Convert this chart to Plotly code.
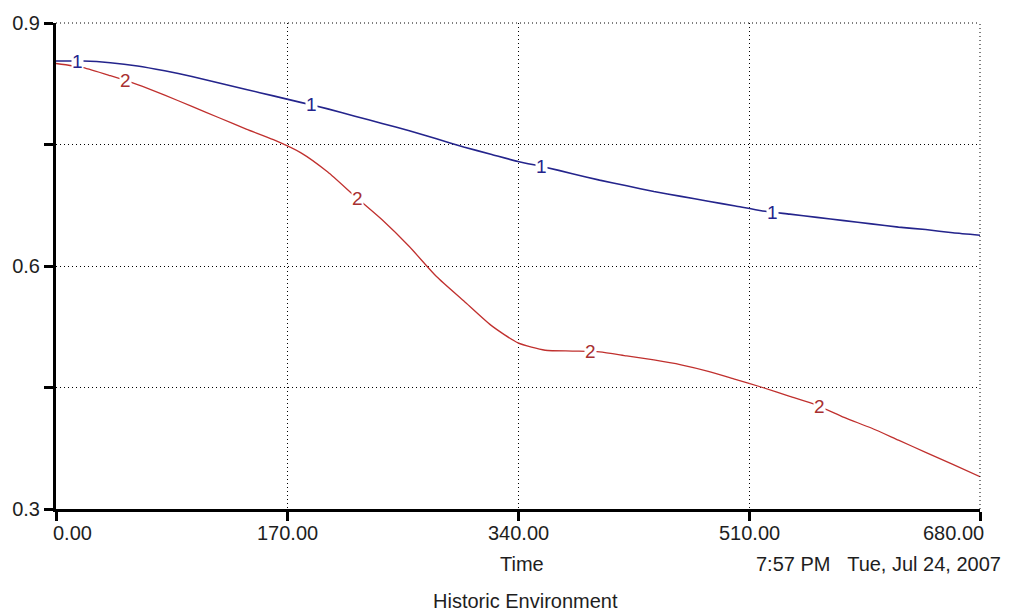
import numpy as np
import plotly.graph_objects as go

# Simulation time axis
time = [0, 20, 40, 60, 80, 100, 120, 140, 160, 180, 200, 220, 240, 260, 280, 300, 320, 340,
        360, 380, 400, 420, 440, 460, 480, 500, 520, 540, 560, 580, 600, 620, 640, 660, 680]

# Series 1 (blue)
series_1 = [0.853, 0.853, 0.851, 0.847, 0.841, 0.834, 0.826, 0.818, 0.810, 0.802, 0.794, 0.785,
            0.776, 0.767, 0.757, 0.747, 0.738, 0.729, 0.722, 0.714, 0.706, 0.699, 0.692, 0.686,
            0.680, 0.674, 0.668, 0.664, 0.660, 0.656, 0.652, 0.648, 0.645, 0.641, 0.638]

# Series 2 (red)
series_2 = [0.850, 0.845, 0.835, 0.824, 0.811, 0.797, 0.783, 0.769, 0.756, 0.740, 0.716, 0.686,
            0.657, 0.624, 0.587, 0.557, 0.527, 0.505, 0.496, 0.495, 0.494, 0.489, 0.484, 0.478,
            0.470, 0.460, 0.450, 0.439, 0.428, 0.413, 0.400, 0.385, 0.370, 0.355, 0.340]

# Times at which the series numbers are stamped on the curves
label_times_1 = [16, 188, 357, 527]
label_times_2 = [51, 222, 393, 562]

x_ticks = [0, 170, 340, 510, 680]
x_tick_text = ["0.00", "170.00", "340.00", "510.00", "680.00"]
y_ticks = [0.3, 0.45, 0.6, 0.75, 0.9]
y_tick_text = ["0.3", "", "0.6", "", "0.9"]

BLUE = "#24248c"
RED = "#c0302e"
FONT = "Liberation Sans"
TXT = "#1e1e1e"
FS = 20

fig = go.Figure()
fig.add_trace(go.Scatter(x=time, y=series_1, mode="lines",
                         line=dict(color=BLUE, width=1.6, shape="spline", smoothing=0.6),
                         hoverinfo="skip"))
fig.add_trace(go.Scatter(x=time, y=series_2, mode="lines",
                         line=dict(color=RED, width=1.3, shape="spline", smoothing=0.6),
                         hoverinfo="skip"))

annotations = []
for t in label_times_1:
    annotations.append(dict(x=t, y=float(np.interp(t, time, series_1)), xref="x", yref="y",
                            text="1", showarrow=False, bgcolor="white", borderpad=0,
                            font=dict(family=FONT, size=19, color=BLUE)))
for t in label_times_2:
    annotations.append(dict(x=t, y=float(np.interp(t, time, series_2)), xref="x", yref="y",
                            text="2", showarrow=False, bgcolor="white", borderpad=0,
                            font=dict(family=FONT, size=19, color="#a83030")))

# x tick labels: end labels pulled inward so they stay inside the frame
for i, (v, s) in enumerate(zip(x_ticks, x_tick_text)):
    anchor, shift = "center", 0
    if i == 0:
        anchor, shift = "left", -5
    elif i == len(x_ticks) - 1:
        anchor, shift = "right", 6
    annotations.append(dict(x=v, y=0, xref="x", yref="paper", text=s, showarrow=False,
                            xanchor=anchor, yanchor="middle", xshift=shift, yshift=-24,
                            font=dict(family=FONT, size=FS, color=TXT)))

annotations += [
    dict(x=340, y=0, xref="x", yref="paper", text="Time", showarrow=False,
         xanchor="center", yanchor="middle", xshift=4, yshift=-55,
         font=dict(family=FONT, size=FS, color=TXT)),
    dict(x=1.0249, y=0, xref="paper", yref="paper", text="7:57 PM&nbsp;&nbsp;&nbsp;Tue, Jul 24, 2007",
         showarrow=False, xanchor="right", yanchor="middle", yshift=-55,
         font=dict(family=FONT, size=FS, color=TXT)),
    dict(x=0.5076, y=0, xref="paper", yref="paper", text="Historic Environment", showarrow=False,
         xanchor="center", yanchor="middle", yshift=-92,
         font=dict(family=FONT, size=FS, color=TXT)),
]

# dotted frame on the top and right edges
shapes = [
    dict(type="line", xref="x domain", yref="y domain", x0=0, x1=1, y0=1, y1=1,
         line=dict(color="black", width=1, dash="1px,3px")),
    dict(type="line", xref="x domain", yref="y domain", x0=1, x1=1, y0=0, y1=1,
         line=dict(color="black", width=1, dash="1px,3px")),
]

fig.update_layout(
    width=1013, height=613,
    margin=dict(l=56, r=33, t=16, b=104),
    paper_bgcolor="white", plot_bgcolor="white",
    showlegend=False,
    annotations=annotations,
    shapes=shapes,
    xaxis=dict(range=[0, 680], tickvals=x_ticks, showticklabels=False,
               ticks="outside", ticklen=9, tickwidth=3, tickcolor="black",
               showline=True, linewidth=3, linecolor="black",
               showgrid=True, gridcolor="black", gridwidth=1, griddash="1px,3px",
               zeroline=False, fixedrange=True),
    yaxis=dict(range=[0.3, 0.9], tickvals=y_ticks, ticktext=y_tick_text,
               ticks="outside", ticklen=9, tickwidth=3, tickcolor="black",
               showline=True, linewidth=3, linecolor="black",
               showgrid=True, gridcolor="black", gridwidth=1, griddash="1px,3px",
               zeroline=False, fixedrange=True,
               tickfont=dict(family=FONT, size=FS, color=TXT)),
)

fig.write_html("out.html")
